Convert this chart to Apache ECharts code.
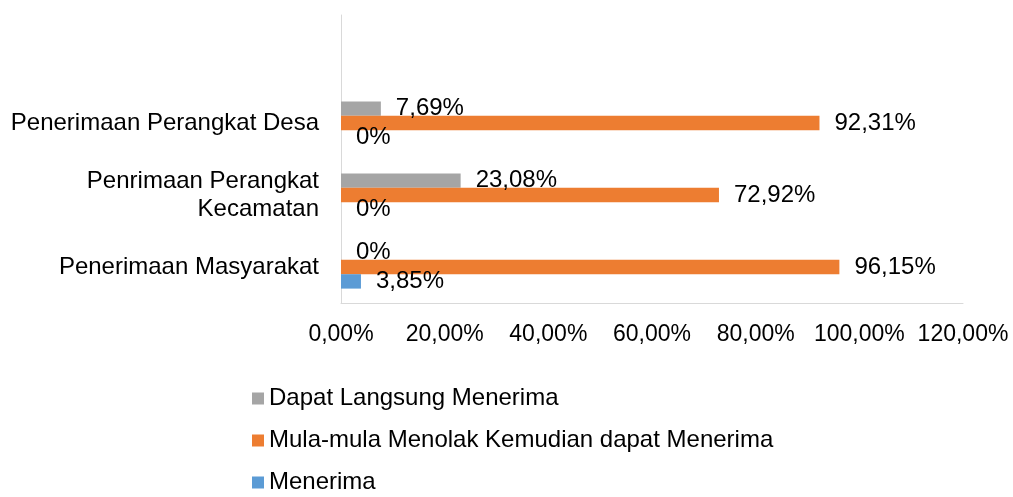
<!DOCTYPE html>
<html>
<head>
<meta charset="utf-8">
<script src="https://cdn.jsdelivr.net/npm/echarts@6/dist/echarts.min.js"></script>
<style>html,body{margin:0;padding:0;background:#fff}#c{width:1013px;height:497px}</style>
</head>
<body>
<div id="c"></div>
<script>
var categories = ['Penerimaan Masyarakat', 'Penrimaan Perangkat\nKecamatan', 'Penerimaan Perangkat Desa', ''];
var seriesNames = ['Dapat Langsung Menerima', 'Mula-mula Menolak Kemudian dapat Menerima', 'Menerima'];
var dapatLangsung = [0, 0.2308, 0.0769, null];
var mulaMula = [0.9615, 0.7292, 0.9231, null];
var menerima = [0.0385, 0, 0, null];
var xTicks = [0, 0.2, 0.4, 0.6, 0.8, 1.0, 1.2];
var colors = ['#A5A5A5', '#ED7D31', '#5B9BD5'];

var FONT = 'Liberation Sans, Arial, sans-serif';
function fmtLabel(p) {
  var v = p.value;
  if (v === 0) return '0%';
  return (v * 100).toFixed(2).replace('.', ',') + '%';
}
function mkSeries(name, data, color) {
  return {
    name: name, type: 'bar', data: data,
    barGap: '0%', barCategoryGap: '40%',
    itemStyle: { color: color },
    label: { show: true, position: 'right', distance: 15, formatter: fmtLabel,
      color: '#000', fontSize: 24, fontFamily: FONT },
    animation: false
  };
}
var chart = echarts.init(document.getElementById('c'), null, { renderer: 'canvas' });
chart.setOption({
  animation: false,
  color: colors,
  grid: { left: 341, right: 50, top: 15, bottom: 194, containLabel: false },
  xAxis: {
    type: 'value', min: xTicks[0], max: xTicks[xTicks.length - 1], interval: 0.2,
    axisLine: { show: true, lineStyle: { color: '#d9d9d9', width: 1 } },
    axisTick: { show: false },
    splitLine: { show: false },
    axisLabel: { margin: 20, color: '#000', fontSize: 23, fontFamily: FONT,
      formatter: function (v) { return (v * 100).toFixed(2).replace('.', ',') + '%'; } }
  },
  yAxis: {
    type: 'category', data: categories,
    axisLine: { show: true, lineStyle: { color: '#d9d9d9', width: 1 } },
    axisTick: { show: false },
    axisLabel: { margin: 22, color: '#000', fontSize: 24, fontFamily: FONT, align: 'right', lineHeight: 28 }
  },
  legend: {
    orient: 'vertical', left: 252, top: 385, height: 200, itemWidth: 12, itemHeight: 12, itemGap: 15,
    icon: 'rect', padding: 0,
    textStyle: { color: '#000', fontSize: 24, fontFamily: FONT, lineHeight: 27 },
    data: seriesNames
  },
  series: [
    mkSeries(seriesNames[0], dapatLangsung, colors[0]),
    mkSeries(seriesNames[1], mulaMula, colors[1]),
    mkSeries(seriesNames[2], menerima, colors[2])
  ]
});
</script>
</body>
</html>
